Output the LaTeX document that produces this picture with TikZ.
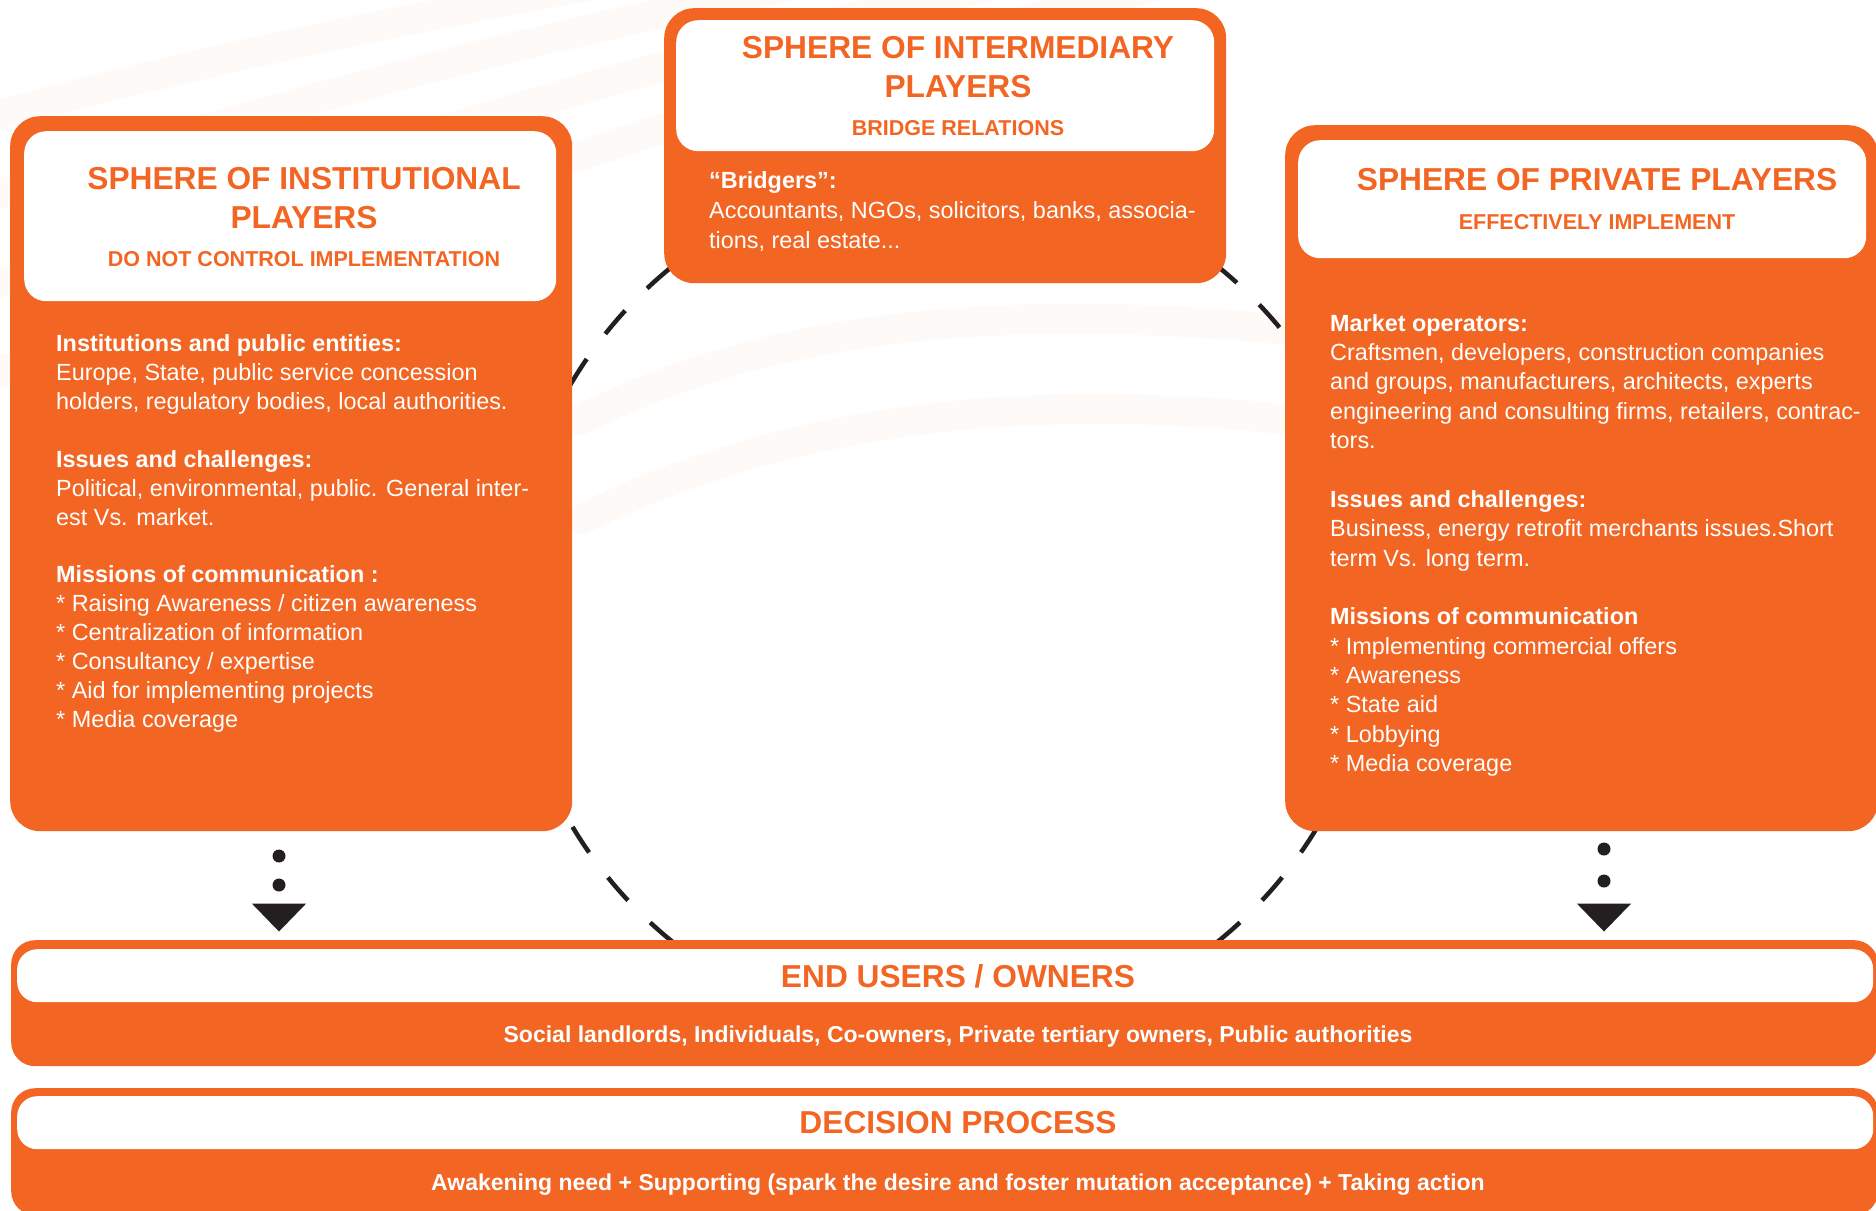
\documentclass[tikz,border=0pt]{standalone}
\usepackage{fontspec}
\setmainfont{Liberation Sans}
\definecolor{org}{RGB}{242,101,34}
\definecolor{ink}{RGB}{35,31,32}
\definecolor{swoosh}{RGB}{252,228,214}
\newcommand\myfh[1]{\rule{0pt}{#1}}
\begin{document}
\begin{tikzpicture}[x=1pt,y=-1pt,
  outerbox/.style={fill=org, draw=none, rounded corners=30pt, inner sep=0pt, anchor=north west},
  whitebox/.style={fill=white, draw=none, rounded corners=22pt, inner sep=0pt, anchor=north west},
  bandbox/.style={fill=org, draw=none, rounded corners=24pt, inner sep=0pt, anchor=north west},
  bandwhite/.style={fill=white, draw=none, rounded corners=20pt, inner sep=0pt, anchor=north west},
  ttl/.style={text=org, font=\bfseries\fontsize{31.7}{39}\selectfont, align=center, inner sep=0pt, anchor=north},
  sub/.style={text=org, font=\bfseries\fontsize{21.5}{26}\selectfont, inner sep=0pt, anchor=base},
  body/.style={text=white, align=left, inner sep=0pt, anchor=north west},
  band/.style={text=white, font=\bfseries\fontsize{23}{28}\selectfont, inner sep=0pt, anchor=base},
  dot/.style={circle, fill=ink, minimum size=13pt, inner sep=0pt},
  ring/.style={draw=ink, line width=4.5pt, dash pattern=on 30.5pt off 31.3pt, dash phase=13.3pt},
  sw/.style={draw=swoosh, line width=30pt, opacity=0.18, line cap=round}
]
\useasboundingbox (0,0) rectangle (1876,1210);
\fill[white] (0,0) rectangle (1876,1210);
% faint background swooshes
\draw[sw] (-20,120) .. controls (200,60) and (400,20) .. (620,-20);
\draw[sw] (-20,200) .. controls (250,110) and (520,40) .. (820,-20);
\draw[sw] (-20,290) .. controls (300,170) and (640,60) .. (1020,-20);
\draw[sw] (-20,380) .. controls (330,240) and (700,100) .. (1180,-20);
\draw[sw] (580,420) .. controls (760,330) and (980,300) .. (1290,330);
\draw[sw] (580,520) .. controls (780,420) and (1020,390) .. (1290,420);
% dashed ring behind the spheres
\draw[ring] (945,604) circle[radius=434];
% sphere of institutional players
\node[outerbox, minimum width=562pt, minimum height=715pt] (inst) at (10,116) {};
\node[whitebox, minimum width=532pt, minimum height=170pt] (instW) at (24,131) {};
\node[ttl] (instT) at (304,164) {\myfh{25pt}SPHERE OF INSTITUTIONAL\\PLAYERS};
\node[sub] (instS) at (304,266) {DO NOT CONTROL IMPLEMENTATION};
\node[body, font=\fontsize{23.4}{28.9}\selectfont] (instB) at (56,331.5) {\myfh{20pt}\textbf{Institutions and public entities:}\\
Europe, State, public service concession\\
holders, regulatory bodies, local authorities.\\[28.9pt]
\textbf{Issues and challenges:}\\
Political, environmental, public. General inter-\\
est Vs. market.\\[28.9pt]
\textbf{Missions of communication :}\\
* Raising Awareness / citizen awareness\\
* Centralization of information\\
* Consultancy / expertise\\
* Aid for implementing projects\\
* Media coverage};
% sphere of intermediary players
\node[outerbox, minimum width=562pt, minimum height=275pt] (mid) at (664,8) {};
\node[whitebox, minimum width=538pt, minimum height=131pt] (midW) at (676,20) {};
\node[ttl] (midT) at (958,33) {\myfh{25pt}SPHERE OF INTERMEDIARY\\PLAYERS};
\node[sub] (midS) at (958,135) {BRIDGE RELATIONS};
\node[body, font=\fontsize{23.4}{29.6}\selectfont] (midB) at (709,168.7) {\myfh{20pt}\textbf{“Bridgers”:}\\
Accountants, NGOs, solicitors, banks, associa-\\
tions, real estate...};
% sphere of private players
\node[outerbox, minimum width=593pt, minimum height=706pt] (priv) at (1285,125) {};
\node[whitebox, minimum width=568pt, minimum height=118pt] (privW) at (1298,140) {};
\node[ttl, anchor=base] (privT) at (1597,190) {SPHERE OF PRIVATE PLAYERS};
\node[sub] (privS) at (1597,229.6) {EFFECTIVELY IMPLEMENT};
\node[body, font=\fontsize{23.4}{29.35}\selectfont] (privB) at (1330,311) {\myfh{20pt}\textbf{Market operators:}\\
Craftsmen, developers, construction companies\\
and groups, manufacturers, architects, experts\\
engineering and consulting firms, retailers, contrac-\\
tors.\\[29.35pt]
\textbf{Issues and challenges:}\\
Business, energy retrofit merchants issues.Short\\
term Vs. long term.\\[29.35pt]
\textbf{Missions of communication}\\
* Implementing commercial offers\\
* Awareness\\
* State aid\\
* Lobbying\\
* Media coverage};
% end users / owners
\node[bandbox, minimum width=1867pt, minimum height=126pt] (users) at (11,940) {};
\node[bandwhite, minimum width=1856pt, minimum height=53pt] (usersW) at (17,949) {};
\node[ttl, anchor=base] (usersT) at (958,987) {END USERS / OWNERS};
\node[band] (usersB) at (958,1042.4) {Social landlords, Individuals, Co-owners, Private tertiary owners, Public authorities};
% decision process
\node[bandbox, minimum width=1867pt, minimum height=127pt] (dec) at (11,1088) {};
\node[bandwhite, minimum width=1856pt, minimum height=53pt] (decW) at (17,1096) {};
\node[ttl, anchor=base] (decT) at (958,1133.8) {DECISION PROCESS};
\node[band] (decB) at (958,1190) {Awakening need + Supporting (spark the desire and foster mutation acceptance) + Taking action};
% dotted arrows toward end users
\node[dot] (l1) at (279,856) {};
\node[dot] (l2) at (279,885) {};
\coordinate (lt) at (279,931.5);
\fill[ink] (l2.south) ++(-27,12) -- ++(54,0) -- (lt) -- cycle;
\node[dot] (r1) at (1604,849) {};
\node[dot] (r2) at (1604,881) {};
\coordinate (rt) at (1604,931.5);
\fill[ink] (r2.south) ++(-27,16) -- ++(54,0) -- (rt) -- cycle;
\end{tikzpicture}
\end{document}
